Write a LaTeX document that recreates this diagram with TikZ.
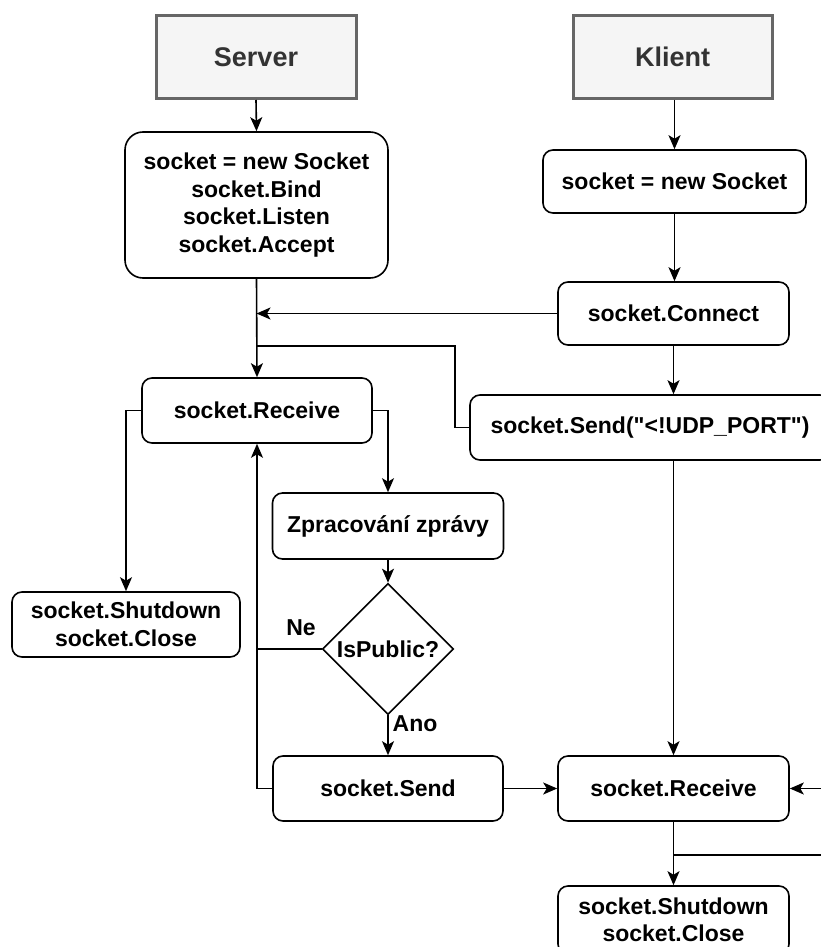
\documentclass[tikz,border=0pt]{standalone}
\usepackage{fontspec}
\setmainfont{Liberation Sans}[Ligatures=TeXOff]
\usetikzlibrary{arrows.meta,shapes.geometric}
\definecolor{headfill}{HTML}{F5F5F5}
\definecolor{headline}{HTML}{666666}
\definecolor{headtext}{HTML}{333333}
\begin{document}
\begin{tikzpicture}[x=1pt,y=-1pt,
  txt/.style={font=\bfseries\fontsize{23}{27.5}\selectfont},
  head/.style={draw=headline,fill=headfill,line width=3pt,text=headtext,
    font=\bfseries\fontsize{27}{32}\selectfont,inner sep=0pt},
  proc/.style={draw,rectangle,rounded corners=10pt,line width=1.6pt,
    align=center,inner sep=0pt,txt},
  decision/.style={draw,diamond,line width=1.6pt,inner sep=0pt,
    minimum width=131pt,minimum height=131pt,txt},
  flow/.style={line width=1.6pt,-{Stealth[length=14pt,width=12pt,inset=3.5pt]}},
  link/.style={line width=1.6pt},
  lbl/.style={txt,inner sep=0pt}]
\useasboundingbox (0,0) rectangle (821,947);
\clip (0,0) rectangle (821,947);

% column headers
\node[head,minimum width=200pt,minimum height=83pt] (srv) at (256,57) {Server};
\node[head,minimum width=199pt,minimum height=83pt] (cli) at (672.5,57) {Klient};

% server side
\node[proc,rounded corners=18pt,minimum width=263pt,minimum height=146pt] (s1) at (256.5,205)
  {socket = new Socket\\socket.Bind\\socket.Listen\\socket.Accept};
\node[proc,minimum width=230pt,minimum height=65pt] (srcv) at (257,410.5) {socket.Receive};
\node[proc,minimum width=228pt,minimum height=65pt] (sshut) at (126,624.5)
  {socket.Shutdown\\socket.Close};
\node[proc,minimum width=231pt,minimum height=66pt] (zpr) at (388,526) {Zpracování zprávy};
\node[decision] (dec) at (388,649) {IsPublic?};
\node[proc,minimum width=230pt,minimum height=65pt] (ssend) at (388,788.5) {socket.Send};

% client side
\node[proc,minimum width=263pt,minimum height=63pt] (c1) at (674.5,181.5) {socket = new Socket};
\node[proc,minimum width=231pt,minimum height=63pt] (conn) at (673.5,313.5) {socket.Connect};
\node[proc,minimum width=360pt,minimum height=65pt] (csend) at (650,427.5) {socket.Send("<!UDP\_PORT")};
\node[proc,minimum width=231pt,minimum height=65pt] (crcv) at (673.5,788.5) {socket.Receive};
\node[proc,minimum width=231pt,minimum height=68pt] (cshut) at (673.5,920)
  {socket.Shutdown\\socket.Close};

% free ends and bends
\coordinate (tap) at (257,346);
\coordinate (kink) at (455,346);
\coordinate (rin) at (840,788.5);
\coordinate (split) at (673.5,855);
\coordinate (rout) at (840,855);

% server flow
\draw[flow] (srv.south) -- (s1.north);
\draw[flow] (s1.south) -- (srcv.north);
\draw[flow] (conn.west) -- (conn.west -| s1.south);
\draw[link] (tap) -- (kink) |- (csend.west);
\draw[flow] (srcv.west) -| (sshut.north);
\draw[flow] (srcv.east) -| (zpr.north);
\draw[flow] (zpr.south) -- (dec.north);
\draw[flow] (dec.south) -- (ssend.north);
\draw[link] (dec.west) -- (dec.west -| srcv.south);
\draw[flow] (ssend.west) -| (srcv.south);
\draw[flow] (ssend.east) -- (crcv.west);
\node[lbl] (ne) at (301,628) {Ne};
\node[lbl] (ano) at (415,724) {Ano};

% client flow
\draw[flow] (cli.south -| c1.north) -- (c1.north);
\draw[flow] (c1.south) -- (c1.south |- conn.north);
\draw[flow] (conn.south) -- (conn.south |- csend.north);
\draw[flow] (csend.south -| crcv.north) -- (crcv.north);
\draw[flow] (rin) -- (crcv.east);
\draw[flow] (crcv.south) -- (cshut.north);
\draw[link] (split) -- (rout);
\end{tikzpicture}
\end{document}
